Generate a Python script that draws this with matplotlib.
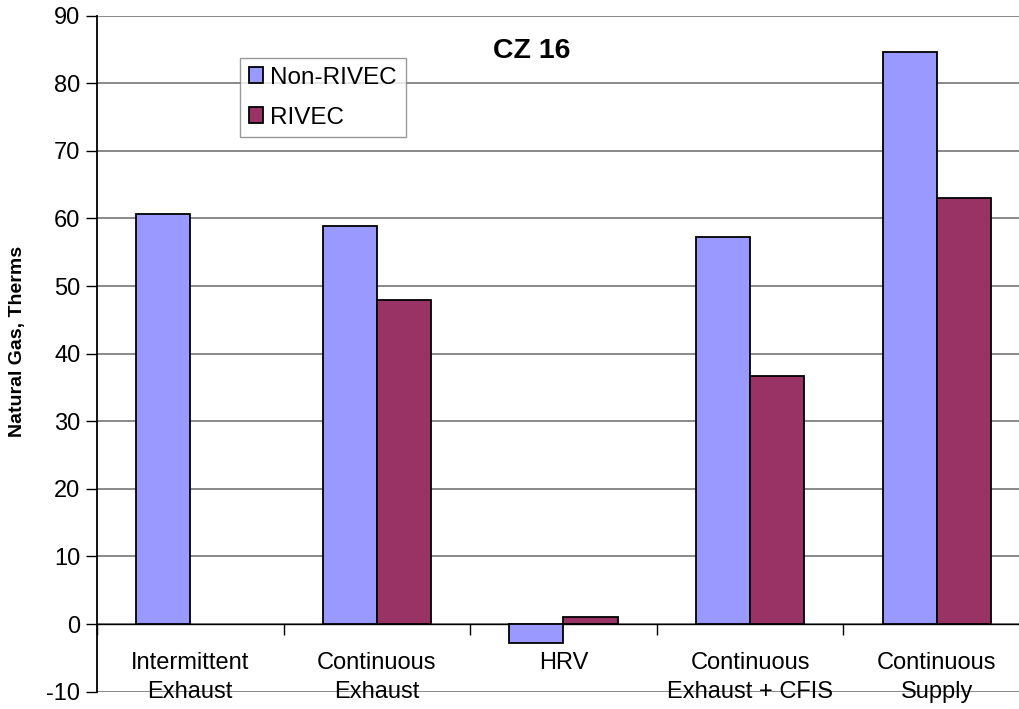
import numpy as np
import matplotlib
matplotlib.use("Agg")
import matplotlib.pyplot as plt
from matplotlib.patches import Patch

plt.rcParams['font.family'] = ['Liberation Sans', 'DejaVu Sans']
plt.rcParams['axes.unicode_minus'] = False

# Data
categories = ["Intermittent\nExhaust", "Continuous\nExhaust", "HRV",
              "Continuous\nExhaust + CFIS", "Continuous\nSupply"]
non_rivec = [60.7, 58.9, -2.8, 57.3, 84.7]
rivec = [0.0, 48.0, 1.1, 36.7, 63.1]
yticks = list(range(-10, 91, 10))

blue = '#9999FF'
plum = '#993366'

W, H = 1020, 709
fig = plt.figure(figsize=(W / 100, H / 100), dpi=100, facecolor='white')
# axes box in pixels: left 97, right ~1030 (runs off the edge), top 16, bottom 692
ax = fig.add_axes([97 / W, 1 - 691.6 / H, (1030 - 97) / W, (691.6 - 15.7) / H])

x = np.arange(len(categories))
bw = 0.29
for vals, off, col in [(non_rivec, -bw / 2, blue), (rivec, bw / 2, plum)]:
    # zero-height bars leave no outline in the original
    edges = ['black' if v != 0 else 'none' for v in vals]
    ax.bar(x + off, vals, bw, color=col, edgecolor=edges, linewidth=1.3, zorder=3)

ax.set_xlim(-0.5, len(categories) - 0.5)
ax.set_ylim(-10, 90)
ax.set_yticks(yticks)
ax.tick_params(axis='y', labelsize=17, length=8, width=1, direction='out', pad=4)
ax.yaxis.grid(True, color='#808080', linewidth=1.3, zorder=0)
ax.set_axisbelow(True)

# x axis sits on zero, ticks between categories
ax.spines['bottom'].set_position(('data', 0))
ax.spines['bottom'].set_linewidth(1.0)
ax.spines['left'].set_linewidth(1.3)
ax.spines['top'].set_visible(False)
ax.spines['right'].set_visible(False)
ax.set_xticks(np.arange(len(categories) + 1) - 0.5)
ax.set_xticklabels([])
ax.tick_params(axis='x', length=8, width=1, direction='out')

# category labels (two lines) below the zero line
for xi, lab in zip(x, categories):
    lines = lab.split("\n")
    ax.text(xi, -5.8, lines[0], ha='center', va='center', fontsize=17, zorder=1)
    if len(lines) > 1:
        ax.text(xi, -10.1, lines[1], ha='center', va='center', fontsize=17, zorder=1)

ax.text(1.83, 84.8, "CZ 16", ha='center', va='center', fontsize=20.5, fontweight='bold')

fig.text(18 / W, 1 - 341 / H, "Natural Gas, Therms", rotation=90, ha='center',
         va='center', fontsize=14, fontweight='bold')

handles = [Patch(facecolor=blue, edgecolor='black', linewidth=1.3, label='Non-RIVEC'),
           Patch(facecolor=plum, edgecolor='black', linewidth=1.3, label='RIVEC')]
leg = fig.legend(handles=handles, loc='upper left', bbox_to_anchor=(240 / W, 1 - 58 / H),
                 fontsize=17.5, frameon=True, fancybox=False, shadow=False,
                 handlelength=0.6, handleheight=0.6, handletextpad=0.3,
                 labelspacing=0.75, borderpad=0.35, borderaxespad=0)
leg.get_frame().set_edgecolor('#808080')
leg.get_frame().set_linewidth(1.0)

fig.savefig("out.png", dpi=100, facecolor='white')
